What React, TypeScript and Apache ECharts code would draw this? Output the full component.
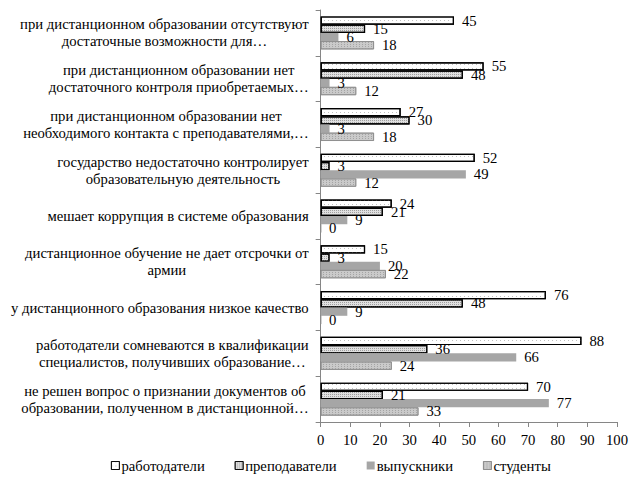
import React, { useEffect, useRef } from "react";
import * as echarts from "echarts";

const categories = [
  "при дистанционном образовании отсутствуют\nдостаточные возможности для…",
  "при дистанционном образовании нет\nдостаточного контроля приобретаемых…",
  "при дистанционном образовании нет\nнеобходимого контакта с преподавателями,…",
  "государство недостаточно контролирует\nобразовательную деятельность",
  "мешает коррупция в системе образования",
  "дистанционное обучение не дает отсрочки от\nармии",
  "у дистанционного образования низкое качество",
  "работодатели сомневаются в квалификации\nспециалистов, получивших образование…",
  "не решен вопрос о признании документов об\nобразовании, полученном в дистанционной…",
];

const seriesNames = ["работодатели", "преподаватели", "выпускники", "студенты"];
const employers = [45, 55, 27, 52, 24, 15, 76, 88, 70];
const teachers = [15, 48, 30, 3, 21, 3, 48, 36, 21];
const graduates = [6, 3, 3, 49, 9, 20, 9, 66, 77];
const students = [18, 12, 18, 12, 0, 22, 0, 24, 33];
const xTicks = [0, 10, 20, 30, 40, 50, 60, 70, 80, 90, 100];

const FONT = "Liberation Serif";
const FS = 14.7;

export default function App() {
  const ref = useRef<HTMLDivElement>(null);
  useEffect(() => {
    if (!ref.current) return;
    const chart = echarts.init(ref.current, null, { renderer: "svg" });
    const labelStyle = {
      show: true,
      position: "right" as const,
      distance: 8,
      fontFamily: FONT,
      fontSize: FS,
      color: "#000",
    };
    const styles = [
      {
        itemStyle: {
          color: "#fff",
          borderColor: "#000",
          borderWidth: 1.2,
          decal: {
            symbol: "rect",
            symbolSize: 1,
            dashArrayX: [1, 3],
            dashArrayY: [1, 3],
            color: "#c0c0c0",
          },
        },
      },
      {
        itemStyle: {
          color: "#e0e0e0",
          borderColor: "#000",
          borderWidth: 1.2,
          decal: {
            symbol: "rect",
            symbolSize: 1,
            dashArrayX: [1, 1],
            dashArrayY: [1, 1],
            rotation: 0,
            color: "#a0a0a0",
          },
        },
      },
      {
        itemStyle: {
          color: "#a6a6a6",
          borderWidth: 0,
        },
      },
      {
        itemStyle: {
          color: "#cacaca",
          borderColor: "#8c8c8c",
          borderWidth: 0.8,
          decal: {
            symbol: "rect",
            symbolSize: 1,
            dashArrayX: [1, 2],
            dashArrayY: [1, 1],
            color: "#a4a4a4",
          },
        },
      },
    ];
    const data = [employers, teachers, graduates, students];
    chart.setOption({
      animation: false,
      backgroundColor: "#fff",
      grid: { left: 309, right: 17, top: 2, bottom: 58, containLabel: false },
      legend: {
        data: seriesNames,
        bottom: 2,
        left: 98,
        itemWidth: 8,
        itemHeight: 8,
        itemGap: 30,
        icon: "rect",
        itemStyle: { borderWidth: 0.8 },
        textStyle: { fontFamily: FONT, fontSize: FS, color: "#000", padding: [0, 0, 0, -3] },
      },
      xAxis: {
        type: "value",
        min: xTicks[0],
        max: xTicks[xTicks.length - 1],
        interval: 10,
        splitLine: { show: false },
        axisLine: { show: true, lineStyle: { color: "#868686" } },
        axisTick: { show: true, length: 5, lineStyle: { color: "#868686" } },
        axisLabel: { fontFamily: FONT, fontSize: FS, color: "#000", margin: 10 },
      },
      yAxis: {
        type: "category",
        inverse: true,
        data: categories,
        axisLine: { show: true, lineStyle: { color: "#868686" } },
        axisTick: { show: true, length: 5, lineStyle: { color: "#868686" } },
        axisLabel: {
          margin: 12,
          fontFamily: FONT,
          fontSize: FS,
          color: "#000",
          lineHeight: 17,
          formatter: (v: string) =>
            v
              .split("\n")
              .map((l) => `{c|${l}}`)
              .join("\n"),
          rich: {
            c: { align: "center", fontFamily: FONT, fontSize: FS, color: "#000", lineHeight: 17 },
          },
        },
      },
      series: seriesNames.map((name, i) => ({
        name,
        type: "bar",
        data: data[i],
        barGap: "0%",
        barCategoryGap: "28%",
        label: labelStyle,
        ...styles[i],
      })),
    });
    return () => chart.dispose();
  }, []);
  return <div ref={ref} style={{ width: 626, height: 472 }} />;
}
